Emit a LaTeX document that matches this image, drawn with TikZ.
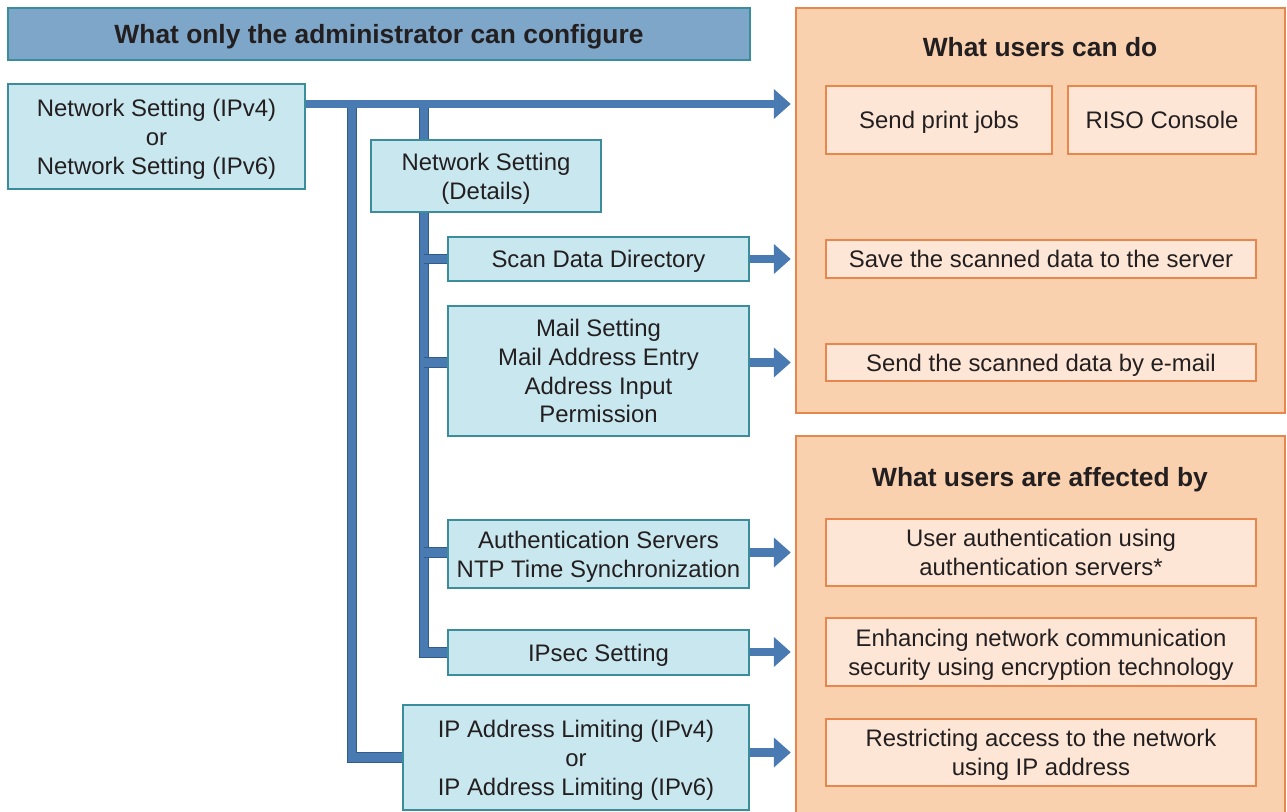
\documentclass[tikz,border=0pt]{standalone}
\usepackage{fontspec}
\setmainfont{Liberation Sans}
\usepackage{tikz}
\usetikzlibrary{arrows.meta,calc}
\definecolor{headc}{HTML}{7EA6C8}
\definecolor{edgec}{HTML}{3C8D9B}
\definecolor{cfgc}{HTML}{C8E7EE}
\definecolor{pipec}{HTML}{4A7AB2}
\definecolor{pipeo}{HTML}{2F5C8A}
\definecolor{userc}{HTML}{FAD1AF}
\definecolor{userl}{HTML}{FDE6D6}
\definecolor{usero}{HTML}{E8874D}
\definecolor{txtc}{HTML}{231F20}
\tikzset{
  box/.style={draw, align=center, text=txtc, inner sep=0pt, line width=0.6pt, text depth=0pt,
              font=\fontsize{6.8}{8.2}\selectfont},
  cbox/.style={box, draw=edgec, fill=cfgc},
  ubox/.style={box, draw=usero, fill=userl},
  panel/.style={draw=usero, fill=userc, line width=0.6pt},
  ttl/.style={font=\fontsize{7.5}{9}\selectfont\bfseries, text=txtc},
  pipe/.style={draw=pipec, line width=2.5pt, preaction={draw=pipeo, line width=3.1pt}},
  parr/.style={draw=pipec, line width=2.5pt, -{Triangle[length=1.7mm, width=2.9mm]}, shorten >=0.04cm},
}
\begin{document}
\begin{tikzpicture}[x=0.01cm, y=-0.01cm]
  \useasboundingbox (0,0) rectangle (1287,812);
  % administrator side
  \node[box, draw=edgec, fill=headc, minimum width=7.42cm, minimum height=0.52cm,
        font=\fontsize{7.5}{9}\selectfont\bfseries] (head) at (379,34) {What only the administrator can configure};
  \node[cbox, minimum width=2.97cm, minimum height=1.05cm] (ns) at (156.5,136.5)
    {Network Setting (IPv4)\\or\\Network Setting (IPv6)};
  \node[cbox, minimum width=2.30cm, minimum height=0.72cm] (nd) at (486,176) {Network Setting\\(Details)};
  \node[cbox, minimum width=3.01cm, minimum height=0.44cm] (scan) at (598.5,259) {Scan Data Directory};
  \node[cbox, minimum width=3.01cm, minimum height=1.30cm] (mail) at (598.5,371)
    {Mail Setting\\Mail Address Entry\\Address Input\\Permission};
  \node[cbox, minimum width=3.01cm, minimum height=0.68cm] (auth) at (598.5,554)
    {Authentication Servers\\NTP Time Synchronization};
  \node[cbox, minimum width=3.01cm, minimum height=0.45cm] (ipsec) at (598.5,652.5) {IPsec Setting};
  \node[cbox, minimum width=3.46cm, minimum height=1.05cm] (iplim) at (576,757.5)
    {IP Address Limiting (IPv4)\\or\\IP Address Limiting (IPv6)};
  % user side
  \node[panel, minimum width=4.89cm, minimum height=4.05cm] (can) at (1040.5,210.5) {};
  \node[panel, minimum width=4.89cm, minimum height=3.84cm] (aff) at (1040.5,628) {};
  \node[ttl] (cant) at (1040,47) {What users can do};
  \node[ttl] (afft) at (1040,480) {What users are affected by};
  \node[ubox, minimum width=2.26cm, minimum height=0.68cm] (print) at (939,120) {Send print jobs};
  \node[ubox, minimum width=1.88cm, minimum height=0.68cm] (riso) at (1162,120) {RISO Console};
  \node[ubox, minimum width=4.30cm, minimum height=0.38cm] (save) at (1041,259) {Save the scanned data to the server};
  \node[ubox, minimum width=4.30cm, minimum height=0.37cm] (send) at (1041,362.5) {Send the scanned data by e-mail};
  \node[ubox, minimum width=4.30cm, minimum height=0.67cm] (uauth) at (1041,552.5)
    {User authentication using\\authentication servers*};
  \node[ubox, minimum width=4.30cm, minimum height=0.68cm] (enc) at (1041,652)
    {Enhancing network communication\\security using encryption technology};
  \node[ubox, minimum width=4.30cm, minimum height=0.67cm] (restr) at (1041,752.5)
    {Restricting access to the network\\using IP address};
  % trunks
  \coordinate (t1) at (352,104);
  \coordinate (t2) at (424,104);
  \draw[pipe] (t1) -- (t1 |- iplim.west) -- (iplim.west);
  \draw[pipe] (t2) -- (t2 |- nd.north);
  \draw[pipe] (t2 |- nd.south) -- (t2 |- ipsec.west) -- (ipsec.west);
  \foreach \b/\u in {scan/save, mail/send, auth/uauth}
    \draw[pipe] (t2 |- \u.west) -- (\b.west |- \u.west);
  % arrows
  \draw[parr] (ns.east |- t1) -- (can.west |- t1);
  \foreach \b/\u/\p in {scan/save/can, mail/send/can, auth/uauth/aff, ipsec/enc/aff, iplim/restr/aff}
    \draw[parr] (\b.east |- \u.west) -- (\p.west |- \u.west);
\end{tikzpicture}
\end{document}
